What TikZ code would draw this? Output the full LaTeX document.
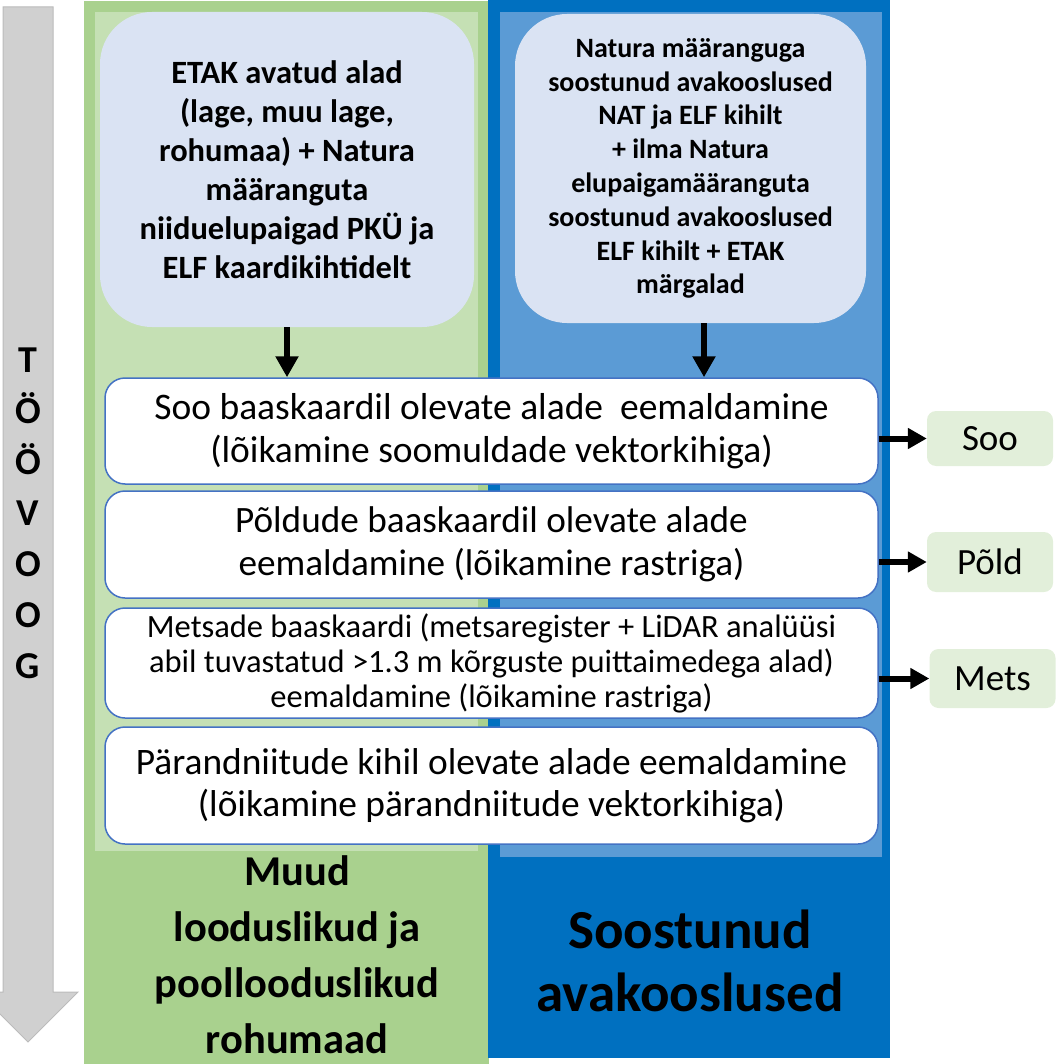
\documentclass[tikz,border=0pt]{standalone}
\usepackage{fontspec}
\setmainfont{Carlito}
\usetikzlibrary{arrows.meta}
\definecolor{gDark}{HTML}{A9D18E}
\definecolor{gLight}{HTML}{C5E0B4}
\definecolor{bDark}{HTML}{0070C0}
\definecolor{bLight}{HTML}{5B9BD5}
\definecolor{lav}{HTML}{DAE3F3}
\definecolor{bBorder}{HTML}{4472C4}
\definecolor{lblFill}{HTML}{E2EFDA}
\definecolor{grFill}{HTML}{D0D0D0}
\definecolor{grLine}{HTML}{BBBBBB}
\tikzset{
  srcbox/.style={fill=lav, rounded corners=52pt, inner sep=0pt, align=center, font=\bfseries},
  stepbox/.style={fill=white, draw=bBorder, line width=1.5pt, rounded corners=20pt, minimum width=773pt, inner sep=0pt, align=center},
  lblbox/.style={fill=lblFill, rounded corners=9pt, minimum width=126pt, inner sep=0pt, font=\fontsize{37}{40}\selectfont},
  downarr/.style={line width=6pt, -{Triangle[width=22pt,length=21pt]}},
  sidearr/.style={line width=6pt, -{Triangle[width=20pt,length=19pt]}},
}
\begin{document}
\begin{tikzpicture}[x=1pt,y=-1pt]
\useasboundingbox (0,0) rectangle (1056,1064);
% panels
\fill[gDark] (84,1) rectangle (489,1064);
\fill[gLight] (95,12) rectangle (478,851);
\fill[bDark] (488,0) rectangle (890,1058);
\fill[bLight] (500,12) rectangle (882,857);
% workflow arrow
\draw[grLine, fill=grFill, line width=1pt] (3,7) -- (53,7) -- (53,992) -- (78,992) -- (28,1042) -- (-22,992) -- (3,992) -- cycle;
\node[font=\bfseries\fontsize{38}{51}\selectfont, align=center, inner sep=0pt] (flow) at (28,513) {T\\Ö\\Ö\\V\\O\\O\\G};
% source boxes
\node[srcbox, minimum width=374pt, minimum height=315pt, font=\bfseries\fontsize{32.5}{39}\selectfont] (src1) at (287,169.5)
  {ETAK avatud alad\\(lage, muu lage,\\rohumaa) + Natura\\määranguta\\niiduelupaigad PKÜ ja\\ELF kaardikihtidelt};
\node[srcbox, minimum width=351pt, minimum height=309pt, font=\bfseries\fontsize{28}{33.8}\selectfont] (src2) at (690.5,168.5)
  {Natura määranguga\\soostunud avakooslused\\NAT ja ELF kihilt\\+ ilma Natura\\elupaigamääranguta\\soostunud avakooslused\\ELF kihilt + ETAK\\märgalad};
% steps
\node[stepbox, minimum height=106pt, font=\fontsize{37.5}{43}\selectfont] (s1) at (491.5,431)
  {Soo baaskaardil olevate alade \ eemaldamine\\(lõikamine soomuldade vektorkihiga)};
\node[stepbox, minimum height=107pt, font=\fontsize{37.2}{43}\selectfont] (s2) at (491.5,544.5)
  {Põldude baaskaardil olevate alade\\eemaldamine (lõikamine rastriga)};
\node[stepbox, minimum height=110pt, font=\fontsize{32.5}{35}\selectfont] (s3) at (491.5,663)
  {Metsade baaskaardi (metsaregister + LiDAR analüüsi\\abil tuvastatud >1.3 m kõrguste puittaimedega alad)\\eemaldamine (lõikamine rastriga)};
\node[stepbox, minimum height=117pt, font=\fontsize{37.4}{42}\selectfont] (s4) at (491.5,785.5)
  {Pärandniitude kihil olevate alade eemaldamine\\(lõikamine pärandniitude vektorkihiga)};
% arrows down
\draw[downarr] (src1.south) -- (src1.south |- s1.north);
\draw[downarr] ([xshift=13.5pt]src2.south) -- ([xshift=13.5pt]src2.south |- s1.north);
% labels
\node[lblbox, minimum height=55pt] (soo) at (990,438.5) {Soo};
\node[lblbox, minimum height=60pt] (pold) at (990,562) {Põld};
\node[lblbox, minimum height=59pt] (mets) at (992.5,678.5) {Mets};
\draw[sidearr] (soo.west -| s1.east) -- (soo.west);
\draw[sidearr] (pold.west -| s2.east) -- (pold.west);
\draw[sidearr] (mets.west -| s3.east) -- (mets.west);
% panel titles
\node[font=\bfseries\fontsize{42.5}{56}\selectfont, align=center, inner sep=0pt] (lblG) at (297,955)
  {Muud\\looduslikud ja\\poollooduslikud\\rohumaad};
\node[font=\bfseries\fontsize{55}{63}\selectfont, align=center, inner sep=0pt] (lblB) at (690,961)
  {Soostunud\\avakooslused};
\end{tikzpicture}
\end{document}
